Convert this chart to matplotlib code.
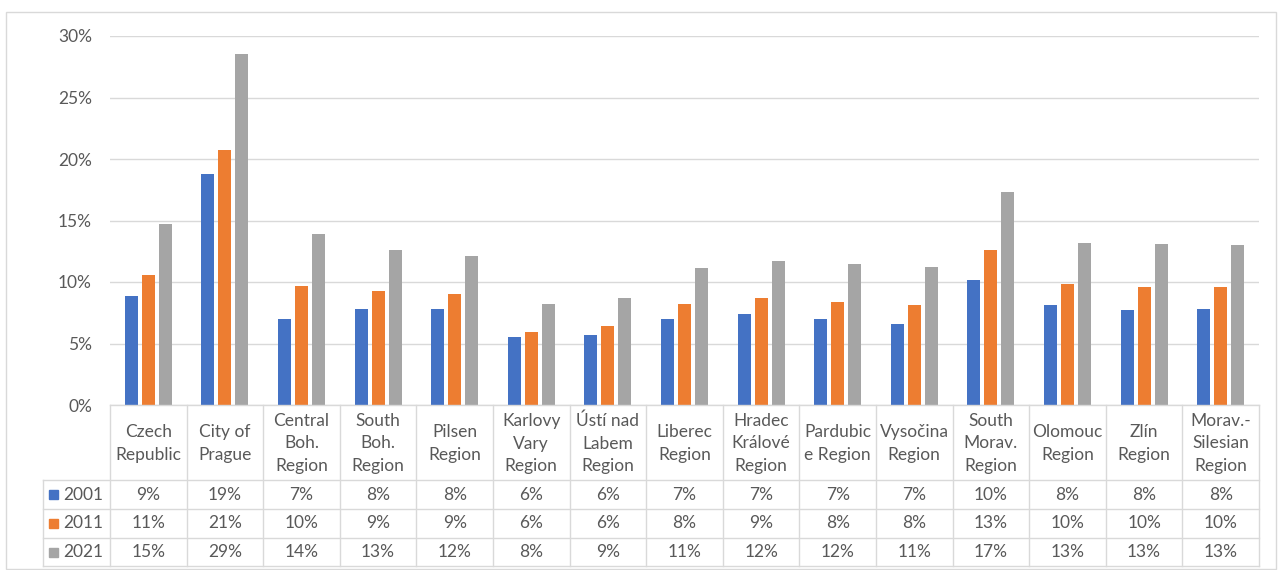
import numpy as np
import matplotlib
matplotlib.use("Agg")
import matplotlib.pyplot as plt
from matplotlib.lines import Line2D
from matplotlib.patches import Rectangle
from matplotlib.ticker import FuncFormatter

plt.rcParams['font.family'] = ['Lato', 'DejaVu Sans']

regions = ["Czech\nRepublic", "City of\nPrague", "Central\nBoh.\nRegion", "South\nBoh.\nRegion",
           "Pilsen\nRegion", "Karlovy\nVary\nRegion", "Ústí nad\nLabem\nRegion", "Liberec\nRegion",
           "Hradec\nKrálové\nRegion", "Pardubic\ne Region", "Vysočina\nRegion", "South\nMorav.\nRegion",
           "Olomouc\nRegion", "Zlín\nRegion", "Morav.-\nSilesian\nRegion"]
years = ["2001", "2011", "2021"]

# bar heights (%)
v2001 = [8.9, 18.8, 7.0, 7.8, 7.8, 5.5, 5.7, 7.0, 7.4, 7.0, 6.6, 10.2, 8.1, 7.7, 7.8]
v2011 = [10.6, 20.7, 9.7, 9.3, 9.0, 5.9, 6.4, 8.2, 8.7, 8.4, 8.1, 12.6, 9.8, 9.6, 9.6]
v2021 = [14.7, 28.5, 13.9, 12.6, 12.1, 8.2, 8.7, 11.1, 11.7, 11.5, 11.2, 17.3, 13.2, 13.1, 13.0]
# rounded values shown in the data table
t2001 = [9, 19, 7, 8, 8, 6, 6, 7, 7, 7, 7, 10, 8, 8, 8]
t2011 = [11, 21, 10, 9, 9, 6, 6, 8, 9, 8, 8, 13, 10, 10, 10]
t2021 = [15, 29, 14, 13, 12, 8, 9, 11, 12, 12, 11, 17, 13, 13, 13]

series = [v2001, v2011, v2021]
table_vals = [t2001, t2011, t2021]
colors = ["#4472C4", "#ED7D31", "#A5A5A5"]

W, H = 1278, 570
fig = plt.figure(figsize=(W / 100, H / 100), dpi=100)

def fx(x):
    return x / W

def fy(y):
    return 1 - y / H

left, right, top, bottom = 110, 1259, 36, 405
ax = fig.add_axes([fx(left), fy(bottom), fx(right - left), fy(top) - fy(bottom)])

n = len(regions)
x = np.arange(n)
offs = [-0.222, 0, 0.222]
for k in range(3):
    ax.bar(x + offs[k], series[k], width=0.17, color=colors[k], zorder=3)

fs = 12.5
txt_c = "#595959"

ax.set_xlim(-0.5, n - 0.5)
ax.set_ylim(0, 30)
ax.set_yticks(np.arange(0, 31, 5))
ax.yaxis.set_major_formatter(FuncFormatter(lambda v, p: "%d%%" % v))
ax.tick_params(axis='y', length=0, pad=13, labelsize=fs, labelcolor=txt_c)
ax.set_xticks([])
ax.grid(axis='y', color="#d9d9d9", linewidth=1, zorder=0)
for s in ax.spines.values():
    s.set_visible(False)

# data table below the plot
line_c = "#d9d9d9"
colw = (right - left) / n
rows_y = [405, 480, 509, 538, 566]

def hline(x0, x1, y):
    fig.add_artist(Line2D([fx(x0), fx(x1)], [fy(y), fy(y)], color=line_c, linewidth=1))

def vline(xp, y0, y1):
    fig.add_artist(Line2D([fx(xp), fx(xp)], [fy(y0), fy(y1)], color=line_c, linewidth=1))

hline(left, right, rows_y[0])
for yy in rows_y[1:]:
    hline(43, right, yy)
for i in range(n + 1):
    vline(left + i * colw, rows_y[0], rows_y[-1])
vline(43, rows_y[1], rows_y[-1])

for i, name in enumerate(regions):
    cx = left + (i + 0.5) * colw
    fig.text(fx(cx), fy((rows_y[0] + rows_y[1]) / 2 + 1), name, ha='center', va='center',
             fontsize=fs, color=txt_c, linespacing=1.5)
    for r in range(3):
        cy = (rows_y[r + 1] + rows_y[r + 2]) / 2
        fig.text(fx(cx), fy(cy), "%d%%" % table_vals[r][i], ha='center', va='center',
                 fontsize=fs, color=txt_c)

for r in range(3):
    cy = (rows_y[r + 1] + rows_y[r + 2]) / 2
    fig.add_artist(Rectangle((fx(49), fy(cy + 4.5)), 9 / W, 9 / H, color=colors[r]))
    fig.text(fx(63), fy(cy), years[r], ha='left', va='center', fontsize=fs, color=txt_c)

# outer chart border
fig.add_artist(Rectangle((fx(6), fy(569)), 1270 / W, 557 / H, fill=False,
                         edgecolor="#d9d9d9", linewidth=1))

fig.savefig("out.png", dpi=100)
